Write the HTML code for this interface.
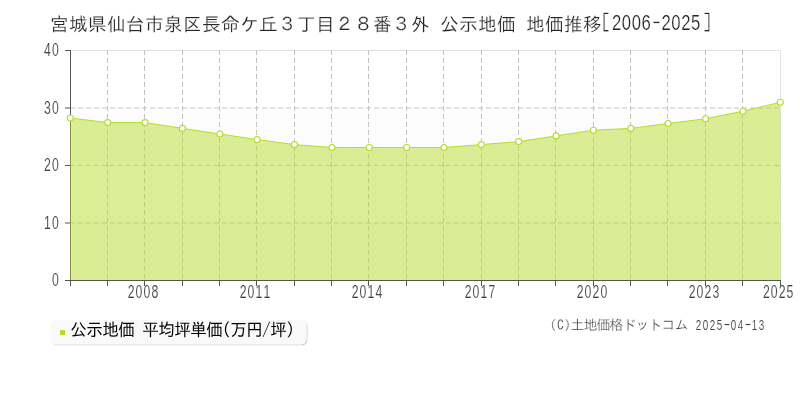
<!DOCTYPE html>
<html lang="ja"><head><meta charset="utf-8"><title>地価推移</title>
<style>html,body{margin:0;padding:0;background:#fff}body{width:800px;height:400px;overflow:hidden;position:relative;font-family:"Liberation Sans","IPAGothic",sans-serif}svg{position:absolute;left:0;top:0;display:block;will-change:transform}text{font-family:"Liberation Sans","IPAGothic",sans-serif;white-space:pre}</style>
</head><body>
<svg width="800" height="400" viewBox="0 0 800 400">
<rect x="0" y="0" width="800" height="400" fill="#ffffff"/>
<rect x="71" y="108" width="709.5" height="57.5" fill="#fcfcfc"/>
<rect x="71" y="223" width="709.5" height="57.5" fill="#fcfcfc"/>
<path d="M71 50.5H780.5V280" fill="none" stroke="#e1e3e3" stroke-width="1"/>
<line x1="107.5" y1="50" x2="107.5" y2="280" stroke="#c3c3c3" stroke-width="1" stroke-dasharray="5 3"/>
<line x1="144.5" y1="50" x2="144.5" y2="280" stroke="#c3c3c3" stroke-width="1" stroke-dasharray="5 3"/>
<line x1="182.5" y1="50" x2="182.5" y2="280" stroke="#c3c3c3" stroke-width="1" stroke-dasharray="5 3"/>
<line x1="219.5" y1="50" x2="219.5" y2="280" stroke="#c3c3c3" stroke-width="1" stroke-dasharray="5 3"/>
<line x1="256.5" y1="50" x2="256.5" y2="280" stroke="#c3c3c3" stroke-width="1" stroke-dasharray="5 3"/>
<line x1="294.5" y1="50" x2="294.5" y2="280" stroke="#c3c3c3" stroke-width="1" stroke-dasharray="5 3"/>
<line x1="331.5" y1="50" x2="331.5" y2="280" stroke="#c3c3c3" stroke-width="1" stroke-dasharray="5 3"/>
<line x1="368.5" y1="50" x2="368.5" y2="280" stroke="#c3c3c3" stroke-width="1" stroke-dasharray="5 3"/>
<line x1="406.5" y1="50" x2="406.5" y2="280" stroke="#c3c3c3" stroke-width="1" stroke-dasharray="5 3"/>
<line x1="443.5" y1="50" x2="443.5" y2="280" stroke="#c3c3c3" stroke-width="1" stroke-dasharray="5 3"/>
<line x1="481.5" y1="50" x2="481.5" y2="280" stroke="#c3c3c3" stroke-width="1" stroke-dasharray="5 3"/>
<line x1="518.5" y1="50" x2="518.5" y2="280" stroke="#c3c3c3" stroke-width="1" stroke-dasharray="5 3"/>
<line x1="555.5" y1="50" x2="555.5" y2="280" stroke="#c3c3c3" stroke-width="1" stroke-dasharray="5 3"/>
<line x1="593.5" y1="50" x2="593.5" y2="280" stroke="#c3c3c3" stroke-width="1" stroke-dasharray="5 3"/>
<line x1="630.5" y1="50" x2="630.5" y2="280" stroke="#c3c3c3" stroke-width="1" stroke-dasharray="5 3"/>
<line x1="667.5" y1="50" x2="667.5" y2="280" stroke="#c3c3c3" stroke-width="1" stroke-dasharray="5 3"/>
<line x1="705.5" y1="50" x2="705.5" y2="280" stroke="#c3c3c3" stroke-width="1" stroke-dasharray="5 3"/>
<line x1="742.5" y1="50" x2="742.5" y2="280" stroke="#c3c3c3" stroke-width="1" stroke-dasharray="5 3"/>
<line x1="70" y1="108.0" x2="780" y2="108.0" stroke="#c3c3c3" stroke-width="1" stroke-dasharray="5 3"/>
<line x1="70" y1="165.5" x2="780" y2="165.5" stroke="#c3c3c3" stroke-width="1" stroke-dasharray="5 3"/>
<line x1="70" y1="223.0" x2="780" y2="223.0" stroke="#c3c3c3" stroke-width="1" stroke-dasharray="5 3"/>
<line x1="70.5" y1="50" x2="70.5" y2="281" stroke="#555555" stroke-width="1"/>
<line x1="65" y1="280.5" x2="781" y2="280.5" stroke="#555555" stroke-width="1"/>
<line x1="65" y1="50.5" x2="70" y2="50.5" stroke="#555555" stroke-width="1"/>
<line x1="65" y1="108.0" x2="70" y2="108.0" stroke="#555555" stroke-width="1"/>
<line x1="65" y1="165.5" x2="70" y2="165.5" stroke="#555555" stroke-width="1"/>
<line x1="65" y1="223.0" x2="70" y2="223.0" stroke="#555555" stroke-width="1"/>
<polygon points="70,118.00 70.30,118.00 107.67,122.60 145.04,122.60 182.41,128.40 219.77,134.00 257.14,139.60 294.51,144.60 331.88,147.50 369.25,147.50 406.62,147.50 443.98,147.50 481.35,144.60 518.72,141.60 556.09,135.90 593.46,130.20 630.83,128.40 668.19,123.50 705.56,118.75 742.93,111.25 780.30,102.25 780.50,280 70,280" fill="#b8dc2c" fill-opacity="0.5"/>
<polyline points="70.30,118.00 107.67,122.60 145.04,122.60 182.41,128.40 219.77,134.00 257.14,139.60 294.51,144.60 331.88,147.50 369.25,147.50 406.62,147.50 443.98,147.50 481.35,144.60 518.72,141.60 556.09,135.90 593.46,130.20 630.83,128.40 668.19,123.50 705.56,118.75 742.93,111.25 780.30,102.25" fill="none" stroke="#b8dc2c" stroke-width="1" stroke-linejoin="round"/>
<circle cx="70.30" cy="118.00" r="3" fill="#ffffff" stroke="#b8dc2c" stroke-width="1.15"/>
<circle cx="107.67" cy="122.60" r="3" fill="#ffffff" stroke="#b8dc2c" stroke-width="1.15"/>
<circle cx="145.04" cy="122.60" r="3" fill="#ffffff" stroke="#b8dc2c" stroke-width="1.15"/>
<circle cx="182.41" cy="128.40" r="3" fill="#ffffff" stroke="#b8dc2c" stroke-width="1.15"/>
<circle cx="219.77" cy="134.00" r="3" fill="#ffffff" stroke="#b8dc2c" stroke-width="1.15"/>
<circle cx="257.14" cy="139.60" r="3" fill="#ffffff" stroke="#b8dc2c" stroke-width="1.15"/>
<circle cx="294.51" cy="144.60" r="3" fill="#ffffff" stroke="#b8dc2c" stroke-width="1.15"/>
<circle cx="331.88" cy="147.50" r="3" fill="#ffffff" stroke="#b8dc2c" stroke-width="1.15"/>
<circle cx="369.25" cy="147.50" r="3" fill="#ffffff" stroke="#b8dc2c" stroke-width="1.15"/>
<circle cx="406.62" cy="147.50" r="3" fill="#ffffff" stroke="#b8dc2c" stroke-width="1.15"/>
<circle cx="443.98" cy="147.50" r="3" fill="#ffffff" stroke="#b8dc2c" stroke-width="1.15"/>
<circle cx="481.35" cy="144.60" r="3" fill="#ffffff" stroke="#b8dc2c" stroke-width="1.15"/>
<circle cx="518.72" cy="141.60" r="3" fill="#ffffff" stroke="#b8dc2c" stroke-width="1.15"/>
<circle cx="556.09" cy="135.90" r="3" fill="#ffffff" stroke="#b8dc2c" stroke-width="1.15"/>
<circle cx="593.46" cy="130.20" r="3" fill="#ffffff" stroke="#b8dc2c" stroke-width="1.15"/>
<circle cx="630.83" cy="128.40" r="3" fill="#ffffff" stroke="#b8dc2c" stroke-width="1.15"/>
<circle cx="668.19" cy="123.50" r="3" fill="#ffffff" stroke="#b8dc2c" stroke-width="1.15"/>
<circle cx="705.56" cy="118.75" r="3" fill="#ffffff" stroke="#b8dc2c" stroke-width="1.15"/>
<circle cx="742.93" cy="111.25" r="3" fill="#ffffff" stroke="#b8dc2c" stroke-width="1.15"/>
<circle cx="780.30" cy="102.25" r="3" fill="#ffffff" stroke="#b8dc2c" stroke-width="1.15"/>
<text transform="translate(44.00 56.00) scale(0.680 1)" x="0.00 11.76" y="0" font-size="18" fill="#404040" stroke="#ffffff" stroke-width="0.15" style="font-family:'Liberation Sans',sans-serif">40</text>
<text transform="translate(44.00 113.50) scale(0.680 1)" x="0.00 11.76" y="0" font-size="18" fill="#404040" stroke="#ffffff" stroke-width="0.15" style="font-family:'Liberation Sans',sans-serif">30</text>
<text transform="translate(44.00 171.00) scale(0.680 1)" x="0.00 11.76" y="0" font-size="18" fill="#404040" stroke="#ffffff" stroke-width="0.15" style="font-family:'Liberation Sans',sans-serif">20</text>
<text transform="translate(44.00 228.50) scale(0.680 1)" x="0.00 11.76" y="0" font-size="18" fill="#404040" stroke="#ffffff" stroke-width="0.15" style="font-family:'Liberation Sans',sans-serif">10</text>
<text transform="translate(52.00 286.00) scale(0.680 1)" x="0.00" y="0" font-size="18" fill="#404040" stroke="#ffffff" stroke-width="0.15" style="font-family:'Liberation Sans',sans-serif">0</text>
<text transform="translate(127.70 298.00) scale(0.680 1)" x="0.00 11.62 23.24 34.85" y="0" font-size="18" fill="#404040" stroke="#ffffff" stroke-width="0.15" style="font-family:'Liberation Sans',sans-serif">2008</text>
<text transform="translate(239.70 298.00) scale(0.680 1)" x="0.00 11.62 23.24 34.85" y="0" font-size="18" fill="#404040" stroke="#ffffff" stroke-width="0.15" style="font-family:'Liberation Sans',sans-serif">2011</text>
<text transform="translate(351.70 298.00) scale(0.680 1)" x="0.00 11.62 23.24 34.85" y="0" font-size="18" fill="#404040" stroke="#ffffff" stroke-width="0.15" style="font-family:'Liberation Sans',sans-serif">2014</text>
<text transform="translate(464.70 298.00) scale(0.680 1)" x="0.00 11.62 23.24 34.85" y="0" font-size="18" fill="#404040" stroke="#ffffff" stroke-width="0.15" style="font-family:'Liberation Sans',sans-serif">2017</text>
<text transform="translate(576.70 298.00) scale(0.680 1)" x="0.00 11.62 23.24 34.85" y="0" font-size="18" fill="#404040" stroke="#ffffff" stroke-width="0.15" style="font-family:'Liberation Sans',sans-serif">2020</text>
<text transform="translate(688.70 298.00) scale(0.680 1)" x="0.00 11.62 23.24 34.85" y="0" font-size="18" fill="#404040" stroke="#ffffff" stroke-width="0.15" style="font-family:'Liberation Sans',sans-serif">2023</text>
<text transform="translate(762.90 298.00) scale(0.680 1)" x="0.00 11.62 23.24 34.85" y="0" font-size="18" fill="#404040" stroke="#ffffff" stroke-width="0.15" style="font-family:'Liberation Sans',sans-serif">2025</text>
<line x1="70.5" y1="281" x2="70.5" y2="286" stroke="#555555" stroke-width="1"/>
<line x1="107.5" y1="281" x2="107.5" y2="286" stroke="#555555" stroke-width="1"/>
<line x1="144.5" y1="281" x2="144.5" y2="286" stroke="#555555" stroke-width="1"/>
<line x1="182.5" y1="281" x2="182.5" y2="286" stroke="#555555" stroke-width="1"/>
<line x1="219.5" y1="281" x2="219.5" y2="286" stroke="#555555" stroke-width="1"/>
<line x1="256.5" y1="281" x2="256.5" y2="286" stroke="#555555" stroke-width="1"/>
<line x1="294.5" y1="281" x2="294.5" y2="286" stroke="#555555" stroke-width="1"/>
<line x1="331.5" y1="281" x2="331.5" y2="286" stroke="#555555" stroke-width="1"/>
<line x1="368.5" y1="281" x2="368.5" y2="286" stroke="#555555" stroke-width="1"/>
<line x1="406.5" y1="281" x2="406.5" y2="286" stroke="#555555" stroke-width="1"/>
<line x1="443.5" y1="281" x2="443.5" y2="286" stroke="#555555" stroke-width="1"/>
<line x1="481.5" y1="281" x2="481.5" y2="286" stroke="#555555" stroke-width="1"/>
<line x1="518.5" y1="281" x2="518.5" y2="286" stroke="#555555" stroke-width="1"/>
<line x1="555.5" y1="281" x2="555.5" y2="286" stroke="#555555" stroke-width="1"/>
<line x1="593.5" y1="281" x2="593.5" y2="286" stroke="#555555" stroke-width="1"/>
<line x1="630.5" y1="281" x2="630.5" y2="286" stroke="#555555" stroke-width="1"/>
<line x1="667.5" y1="281" x2="667.5" y2="286" stroke="#555555" stroke-width="1"/>
<line x1="705.5" y1="281" x2="705.5" y2="286" stroke="#555555" stroke-width="1"/>
<line x1="742.5" y1="281" x2="742.5" y2="286" stroke="#555555" stroke-width="1"/>
<line x1="780.5" y1="281" x2="780.5" y2="286" stroke="#555555" stroke-width="1"/>
<text x="50.00 69.00 88.00 107.00 126.00 145.00 164.00 183.00 202.00 221.00 240.00 259.00 278.00 297.00 316.00 335.00 354.00 373.00 392.00 411.00 430.00 440.00 459.00 478.00 497.00 516.00 526.00 545.00 564.00 583.00" y="31.00" font-size="18.67" fill="#262626" stroke="#ffffff" stroke-width="0.2">宮城県仙台市泉区長命ケ丘３丁目２８番３外 公示地価 地価推移</text>
<text transform="translate(601.70 30.30) scale(0.760 1)" fill="#262626" stroke="#ffffff" stroke-width="0.22"><tspan x="0.13" y="0.00" font-size="21" style="font-family:'IPAGothic','Liberation Sans',sans-serif">[</tspan><tspan x="13.42 26.45 39.47 52.50" y="0" font-size="22" style="font-family:'Liberation Sans',sans-serif">2006</tspan><tspan x="67.11" y="-0.20" font-size="20" style="font-family:'IPAGothic','Liberation Sans',sans-serif">-</tspan><tspan x="78.55 91.58 104.61 117.63" y="0" font-size="22" style="font-family:'Liberation Sans',sans-serif">2025</tspan><tspan x="133.68" y="0.00" font-size="21" style="font-family:'IPAGothic','Liberation Sans',sans-serif">]</tspan></text>
<defs><filter id="sh" x="-5%" y="-20%" width="110%" height="150%"><feDropShadow dx="1" dy="1" stdDeviation="0.5" flood-color="#000" flood-opacity="0.22"/></filter></defs>
<rect x="50.5" y="320" width="256" height="24.3" rx="5.5" ry="5.5" fill="#f9f9f9" filter="url(#sh)"/>
<rect x="60" y="330" width="5" height="5" fill="#b8dc2c"/>
<text transform="translate(0 336.20) scale(1 1.060)" x="70.30 86.30 102.30 118.30 134.30 142.30 158.30 174.30 190.30 206.30 222.30 230.30 246.30 262.30 270.30 286.30" y="0" font-size="16.6" fill="#000000" stroke="#ffffff" stroke-width="0" style="font-family:'IPAGothic','Liberation Sans',sans-serif">公示地価 平均坪単価(万円/坪)</text>
<text y="330.2" fill="#3e3e3e" stroke="#ffffff" stroke-width="0.2" style="font-family:'IPAGothic','Liberation Sans',sans-serif"><tspan x="549.8" font-size="13.2">(</tspan><tspan x="557.1" font-size="14">C</tspan><tspan x="564.2" font-size="13.2">)</tspan></text>
<text x="570.40 583.40 596.40 609.40 622.40 635.40 648.40 661.40 674.40" y="330.20" font-size="14" fill="#3e3e3e" stroke="#ffffff" stroke-width="0.25">土地価格ドットコム</text>
<text transform="translate(695.70 330.20) scale(0.700 1)" fill="#3e3e3e" stroke="#ffffff" stroke-width="0.12"><tspan x="0.00 10.00 20.00 30.00" y="0" font-size="14" style="font-family:'Liberation Sans',sans-serif">2025</tspan><tspan x="40.29" y="0.90" font-size="17" style="font-family:'IPAGothic','Liberation Sans',sans-serif">-</tspan><tspan x="50.00 60.00" y="0" font-size="14" style="font-family:'Liberation Sans',sans-serif">04</tspan><tspan x="70.29" y="0.90" font-size="17" style="font-family:'IPAGothic','Liberation Sans',sans-serif">-</tspan><tspan x="80.00 90.00" y="0" font-size="14" style="font-family:'Liberation Sans',sans-serif">13</tspan></text>
</svg>
</body></html>
